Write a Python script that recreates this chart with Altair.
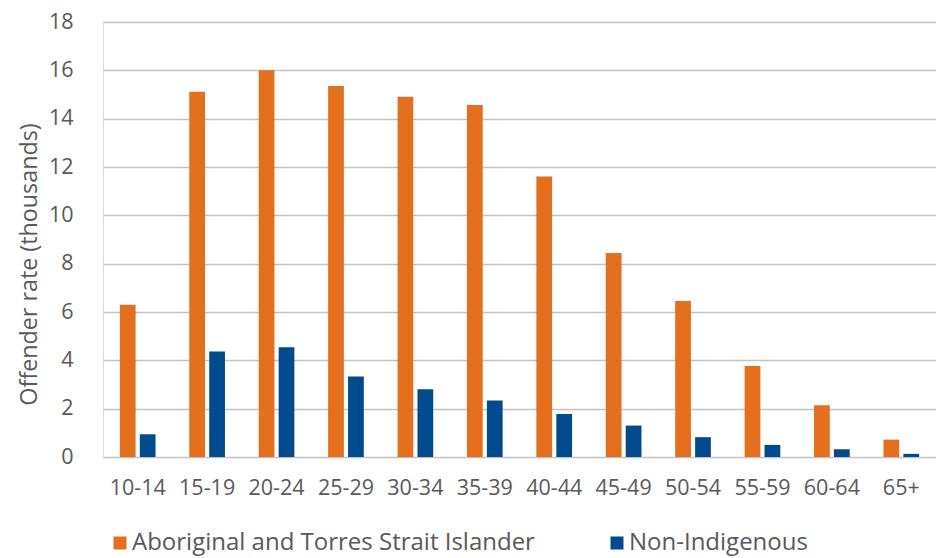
import altair as alt
import pandas as pd

age_groups = ["10-14", "15-19", "20-24", "25-29", "30-34", "35-39",
              "40-44", "45-49", "50-54", "55-59", "60-64", "65+"]
indigenous = [6.30, 15.11, 16.00, 15.35, 14.91, 14.57, 11.61, 8.44, 6.46, 3.77, 2.14, 0.72]
non_indigenous = [0.94, 4.37, 4.54, 3.33, 2.80, 2.34, 1.78, 1.30, 0.82, 0.50, 0.32, 0.13]
series = ["Aboriginal and Torres Strait Islander", "Non-Indigenous"]
colors = ["#E46F1E", "#004B8D"]
y_ticks = [0, 2, 4, 6, 8, 10, 12, 14, 16, 18]

rows = []
for i, g in enumerate(age_groups):
    rows.append({"age": g, "series": series[0], "rate": indigenous[i]})
    rows.append({"age": g, "series": series[1], "rate": non_indigenous[i]})
df = pd.DataFrame(rows)

FONT = "Open Sans"
TXT = "#595959"

chart = alt.Chart(df).mark_bar().encode(
    x=alt.X("age:N", sort=age_groups,
            scale=alt.Scale(paddingInner=0.486, paddingOuter=0.243),
            axis=alt.Axis(title=None, labelAngle=0, labelFontSize=21.5, labelColor=TXT,
                          labelFont=FONT, labelPadding=20,
                          ticks=False, domain=False, grid=False)),
    xOffset=alt.XOffset("series:N", sort=series,
                        scale=alt.Scale(paddingInner=0.21, paddingOuter=0)),
    y=alt.Y("rate:Q", scale=alt.Scale(domain=[0, 18], nice=False),
            axis=alt.Axis(title="Offender rate (thousands)", values=y_ticks,
                          labelFontSize=21.5, labelColor=TXT, labelFont=FONT,
                          labelPadding=30, ticks=False, domain=False,
                          titleFontSize=23.3, titleColor=TXT, titleFont=FONT,
                          titleFontWeight="normal", titleX=-67, titleY=242,
                          titleBaseline="alphabetic", titleAngle=270,
                          gridColor="#C3C3C3", gridWidth=1.3)),
    color=alt.Color("series:N", sort=series,
                    scale=alt.Scale(domain=series, range=colors),
                    legend=alt.Legend(title=None, orient="none", legendX=5, legendY=509,
                                      direction="horizontal", columns=2, columnPadding=70,
                                      symbolType="square", symbolSize=169,
                                      symbolStrokeWidth=0, labelFontSize=24,
                                      labelColor=TXT, labelFont=FONT, labelOffset=0,
                                      labelLimit=600)),
).properties(
    width=833, height=435,
    autosize=alt.AutoSizeParams(type="none"),
    padding={"left": 103, "top": 22, "right": 0, "bottom": 101},
).configure_view(stroke=None).configure(background="white")

chart.save("out.html", embed_options={"renderer": "svg", "actions": False})
